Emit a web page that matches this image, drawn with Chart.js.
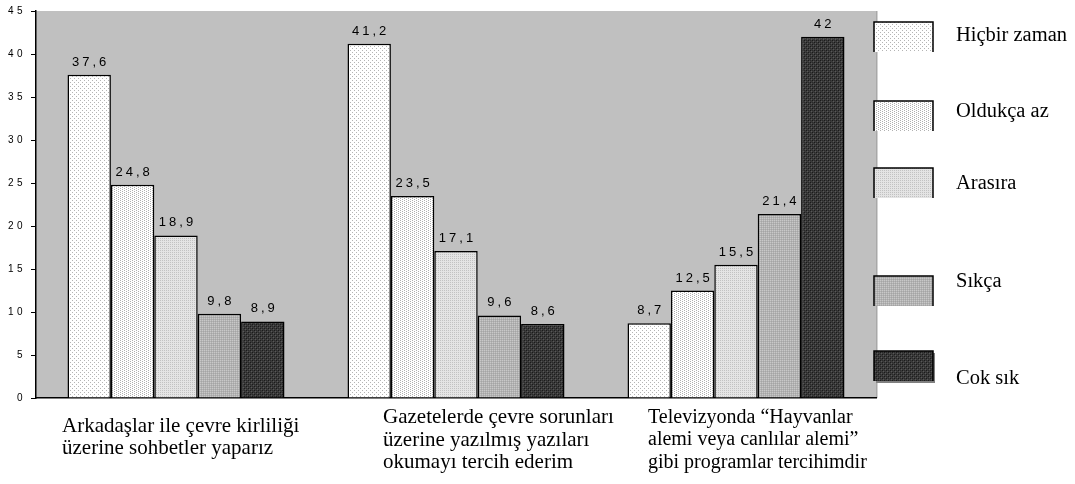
<!DOCTYPE html>
<html><head><meta charset="utf-8">
<script src="https://cdn.jsdelivr.net/npm/chart.js@4"></script>
<style>html,body{margin:0;padding:0;background:#fff}#wrap{width:1075px;height:484px;position:relative}</style>
</head><body><div id="wrap"><canvas id="c" width="1075" height="484"></canvas></div>
<script>
// ---- data ----
const categories = [
  ["Arkadaşlar ile çevre kirliliği", "üzerine sohbetler yaparız"],
  ["Gazetelerde çevre sorunları", "üzerine yazılmış yazıları", "okumayı tercih ederim"],
  ["Televizyonda “Hayvanlar", "alemi veya canlılar alemi”", "gibi programlar tercihimdir"]
];
const seriesNames = ["Hiçbir zaman", "Oldukça az", "Arasıra", "Sıkça", "Cok sık"];
const hicbirZaman = [37.6, 41.2, 8.7];
const oldukcaAz = [24.8, 23.5, 12.5];
const arasira = [18.9, 17.1, 15.5];
const sikca = [9.8, 9.6, 21.4];
const cokSik = [8.9, 8.6, 42];
const yTickValues = [0, 5, 10, 15, 20, 25, 30, 35, 40, 45];
const seriesData = [hicbirZaman, oldukcaAz, arasira, sikca, cokSik];

// ---- fill patterns ----
function makePattern(size, bg, dots) {
  const c = document.createElement('canvas');
  c.width = size; c.height = size;
  const x = c.getContext('2d');
  x.fillStyle = bg; x.fillRect(0, 0, size, size);
  dots.forEach(d => { x.fillStyle = d[2]; x.fillRect(d[0], d[1], 1, 1); });
  return document.getElementById('c').getContext('2d').createPattern(c, 'repeat');
}
const patterns = [
  makePattern(4, '#ffffff', [[0,0,'#b4b4b4'],[2,2,'#b4b4b4']]),
  makePattern(4, '#ffffff', [[0,0,'#b0b0b0'],[0,2,'#b0b0b0'],[2,1,'#b0b0b0'],[2,3,'#b0b0b0']]),
  makePattern(2, '#e4e4e4', [[0,0,'#c2c2c2']]),
  makePattern(2, '#b2b2b2', [[0,0,'#c8c8c8'],[1,1,'#a4a4a4']]),
  makePattern(4, '#3a3a3a', [[0,0,'#1a1a1a'],[2,2,'#1a1a1a'],[1,1,'#585858'],[3,3,'#585858'],[2,0,'#2a2a2a'],[0,2,'#2a2a2a']])
];

const SANS = 'Arial, "Liberation Sans", sans-serif';
const SERIF = '"Times New Roman", "Liberation Serif", serif';

const bgPlugin = {
  id: 'bg',
  beforeDraw(chart) {
    const { ctx, chartArea: a } = chart;
    ctx.fillStyle = '#ffffff';
    ctx.fillRect(0, 0, chart.width, chart.height);
    ctx.fillStyle = '#c0c0c0';
    ctx.fillRect(a.left, a.top, a.right - a.left, a.bottom - a.top);
    ctx.fillStyle = '#a8a8a8';
    ctx.fillRect(a.right, a.top, 1.5, a.bottom - a.top);
    ctx.letterSpacing = '3.5px';
  },
  beforeDatasetsDraw(chart) { chart.ctx.letterSpacing = '0px'; }
};

const labelPlugin = {
  id: 'vals',
  afterDatasetsDraw(chart) {
    const ctx = chart.ctx;
    ctx.save();
    ctx.letterSpacing = '3px';
    ctx.font = '13px ' + SANS;
    ctx.fillStyle = '#000';
    ctx.textAlign = 'center';
    ctx.textBaseline = 'alphabetic';
    chart.data.datasets.forEach((ds, di) => {
      chart.getDatasetMeta(di).data.forEach((el, i) => {
        const t = String(ds.data[i]).replace('.', ',');
        ctx.fillText(t, el.x + 1.5, el.y - 9);
      });
    });
    ctx.restore();
  }
};

const textPlugin = {
  id: 'texts',
  afterDraw(chart) {
    const ctx = chart.ctx;
    const xs = chart.scales.x;
    ctx.save();
    ctx.letterSpacing = '0px';
    ctx.fillStyle = '#000';
    // category labels (left-aligned, vertically centred blocks)
    const fontSize = [21, 21, 20];
    ctx.textAlign = 'left';
    ctx.textBaseline = 'middle';
    const startOff = [-114, -73, -88];
    const lineH = 22.5;
    categories.forEach((lines, i) => {
      ctx.font = fontSize[i] + 'px ' + SERIF;
      const blockMid = lines.length === 2 ? 437.5 : 440;
      const x0 = xs.getPixelForValue(i) + startOff[i];
      const y0 = blockMid - (lines.length - 1) * lineH / 2;
      lines.forEach((ln, j) => ctx.fillText(ln, x0, y0 + j * lineH));
    });
    // legend
    const boxTop = [22, 101, 168, 276, 351];
    const textBase = [41, 117, 189, 287, 384];
    ctx.font = '20.5px ' + SERIF;
    ctx.textBaseline = 'alphabetic';
    seriesNames.forEach((n, i) => {
      const bx = 874, by = boxTop[i], bw = 59, bh = 30;
      if (i === 4) { ctx.fillStyle = '#808080'; ctx.fillRect(bx + 2, by + 2, bw, bh); }
      ctx.fillStyle = patterns[i];
      ctx.fillRect(bx, by, bw, bh);
      ctx.strokeStyle = '#000';
      ctx.lineWidth = 1.5;
      ctx.beginPath();
      ctx.moveTo(bx, by + bh); ctx.lineTo(bx, by); ctx.lineTo(bx + bw, by); ctx.lineTo(bx + bw, by + bh);
      ctx.stroke();
      ctx.fillStyle = '#000';
      ctx.fillText(n, 956, textBase[i]);
    });
    ctx.restore();
  }
};

new Chart(document.getElementById('c'), {
  type: 'bar',
  data: {
    labels: categories,
    datasets: seriesNames.map((n, i) => ({
      label: n,
      data: seriesData[i],
      backgroundColor: patterns[i],
      borderColor: '#000',
      borderWidth: 1.5,
      borderSkipped: 'bottom',
      categoryPercentage: 0.775,
      barPercentage: 1
    }))
  },
  options: {
    responsive: false,
    animation: false,
    events: [],
    layout: { padding: { left: 0, right: 199, top: 11, bottom: 0 } },
    plugins: { legend: { display: false }, tooltip: { enabled: false } },
    scales: {
      x: {
        grid: { display: false },
        ticks: { display: false },
        border: { display: true, color: '#000', width: 1.5 },
        afterFit(s) { s.height = 86; }
      },
      y: {
        min: 0, max: 45,
        afterBuildTicks(s) { s.ticks = yTickValues.map(v => ({ value: v })); },
        ticks: { font: { family: SANS, size: 10 }, color: '#000', padding: 5 },
        grid: { display: true, drawOnChartArea: false, drawTicks: true, tickLength: 5, tickColor: '#000', color: '#000' },
        border: { display: true, color: '#000', width: 1.5 },
        afterFit(s) { s.width = 36; }
      }
    }
  },
  plugins: [bgPlugin, labelPlugin, textPlugin]
});
</script>
</body></html>
